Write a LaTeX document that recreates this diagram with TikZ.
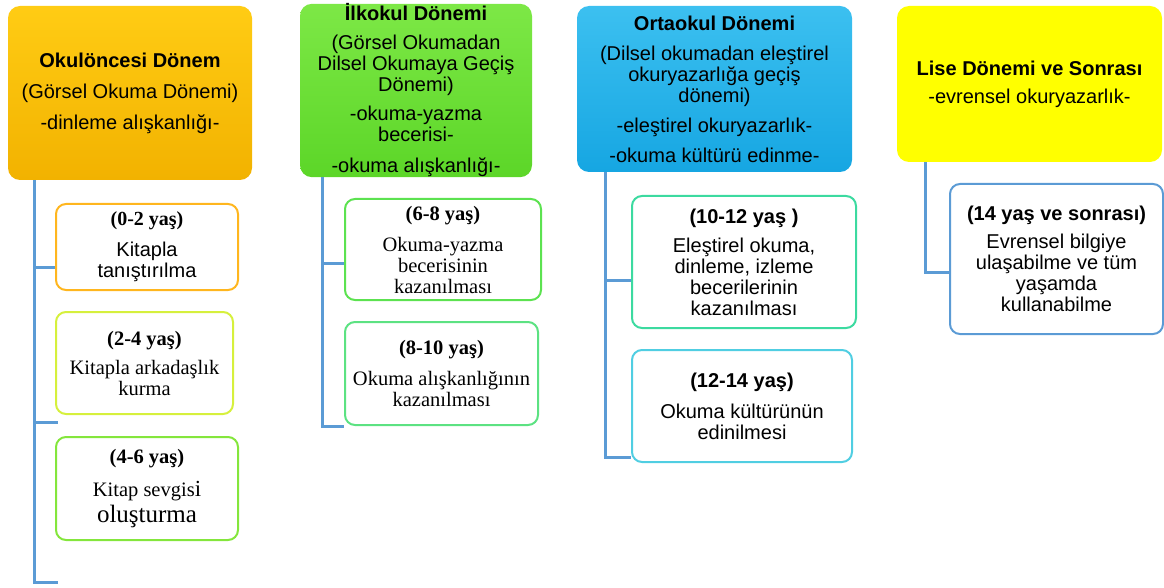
\documentclass[tikz,border=0pt]{standalone}
\usepackage{fontspec}
\setmainfont{Liberation Sans}
\newfontfamily\timesfont{Liberation Serif}
\definecolor{linkblue}{RGB}{91,155,213}
\definecolor{goldtop}{RGB}{255,204,20}
\definecolor{goldbot}{RGB}{242,178,0}
\definecolor{greentop}{RGB}{125,232,70}
\definecolor{greenbot}{RGB}{92,214,40}
\definecolor{bluetop}{RGB}{60,192,240}
\definecolor{bluebot}{RGB}{22,166,226}
\definecolor{brightyellow}{RGB}{255,255,0}
\definecolor{edgeorange}{RGB}{255,182,30}
\definecolor{edgelime}{RGB}{214,240,60}
\definecolor{edgegreen}{RGB}{132,230,60}
\definecolor{edgeleaf}{RGB}{92,226,80}
\definecolor{edgemint}{RGB}{92,226,130}
\definecolor{edgeteal}{RGB}{60,218,160}
\definecolor{edgecyan}{RGB}{80,206,226}
\tikzset{
  header/.style={rounded corners=12pt, align=center, inner sep=0pt,
    font=\fontsize{20}{21}\selectfont},
  agebox/.style={draw=#1, line width=2pt, rounded corners=10pt, fill=white,
    align=center, inner sep=0pt, font=\fontsize{20}{21}\selectfont},
  serif/.style={font=\timesfont\fontsize{20.5}{21}\selectfont},
  link/.style={draw=linkblue, line width=3pt},
}
\begin{document}
\begin{tikzpicture}[x=1pt,y=-1pt]
\useasboundingbox (0,0) rectangle (1164,588);
% period headers
\node[header, top color=goldtop, bottom color=goldbot,
  minimum width=244pt, minimum height=174pt] (h1) at (130,93)
  {\textbf{Okulöncesi Dönem}\\[10pt](Görsel Okuma Dönemi)\\[10pt]-dinleme alışkanlığı-};
\node[header, top color=greentop, bottom color=greenbot,
  minimum width=232pt, minimum height=171pt] (h2) at (416,90.5)
  {\textbf{İlkokul Dönemi}\\[8pt](Görsel Okumadan\\Dilsel Okumaya Geçiş\\Dönemi)\\[8pt]-okuma-yazma\\becerisi-\\[10pt]-okuma alışkanlığı-};
\node[header, top color=bluetop, bottom color=bluebot,
  minimum width=275pt, minimum height=166pt] (h3) at (714.5,89)
  {\textbf{Ortaokul Dönemi}\\[9pt](Dilsel okumadan eleştirel\\okuryazarlığa geçiş\\dönemi)\\[9pt]-eleştirel okuryazarlık-\\[9pt]-okuma kültürü edinme-};
\node[header, fill=brightyellow,
  minimum width=265pt, minimum height=156pt] (h4) at (1029.5,84)
  {\textbf{Lise Dönemi ve Sonrası}\\[7pt]-evrensel okuryazarlık-};
% age boxes
\node[agebox=edgeorange, minimum width=182pt, minimum height=86pt] (c1) at (147,247)
  {{\timesfont\bfseries (0-2 yaş)}\\[10pt]Kitapla\\tanıştırılma};
\node[agebox=edgelime, serif, minimum width=177pt, minimum height=102pt] (c2) at (144.5,363)
  {\textbf{(2-4 yaş)}\\[8pt]Kitapla arkadaşlık\\kurma};
\node[agebox=edgegreen, serif, minimum width=182pt, minimum height=103pt] (c3) at (147,488.5)
  {\textbf{(4-6 yaş)}\\[12pt]Kitap sevgis{\fontsize{23}{23}\selectfont i}\\[4pt]{\fontsize{25}{25}\selectfont oluşturma}};
\node[agebox=edgeleaf, serif, minimum width=196pt, minimum height=101pt] (d1) at (443,249.5)
  {\textbf{(6-8 yaş)}\\[10pt]Okuma-yazma\\becerisinin\\kazanılması};
\node[agebox=edgemint, serif, minimum width=193pt, minimum height=103pt] (d2) at (441.5,373.5)
  {\textbf{(8-10 yaş)}\\[10pt]Okuma alışkanlığının\\kazanılması};
\node[agebox=edgeteal, minimum width=224pt, minimum height=132pt] (e1) at (744,262)
  {\textbf{(10-12 yaş )}\\[8pt]Eleştirel okuma,\\dinleme, izleme\\becerilerinin\\kazanılması};
\node[agebox=edgecyan, minimum width=220pt, minimum height=112pt] (e2) at (742,406)
  {\textbf{(12-14 yaş)}\\[10pt]Okuma kültürünün\\edinilmesi};
\node[agebox=linkblue, minimum width=213pt, minimum height=150pt] (f1) at (1056.5,259)
  {\textbf{(14 yaş ve sonrası)}\\[7pt]Evrensel bilgiye\\ulaşabilme ve tüm\\yaşamda\\kullanabilme};
% connectors
\coordinate (t1) at (58,582);
\coordinate (t2) at (58,422);
\draw[link] (h1.south -| 34,0) |- (t1);
\draw[link] (34,267) -- (c1.west |- 34,267);
\draw[link] (34,422) -- (t2);
\draw[link] (h2.south -| 322,0) |- (d2.south west);
\draw[link] (322,263) -- (d1.west |- 322,263);
\draw[link] (h3.south -| 605,0) |- (e2.west |- 605,457);
\draw[link] (605,280) -- (e1.west |- 605,280);
\draw[link] (h4.south -| 925,0) |- (f1.west |- 925,272);
\end{tikzpicture}
\end{document}
